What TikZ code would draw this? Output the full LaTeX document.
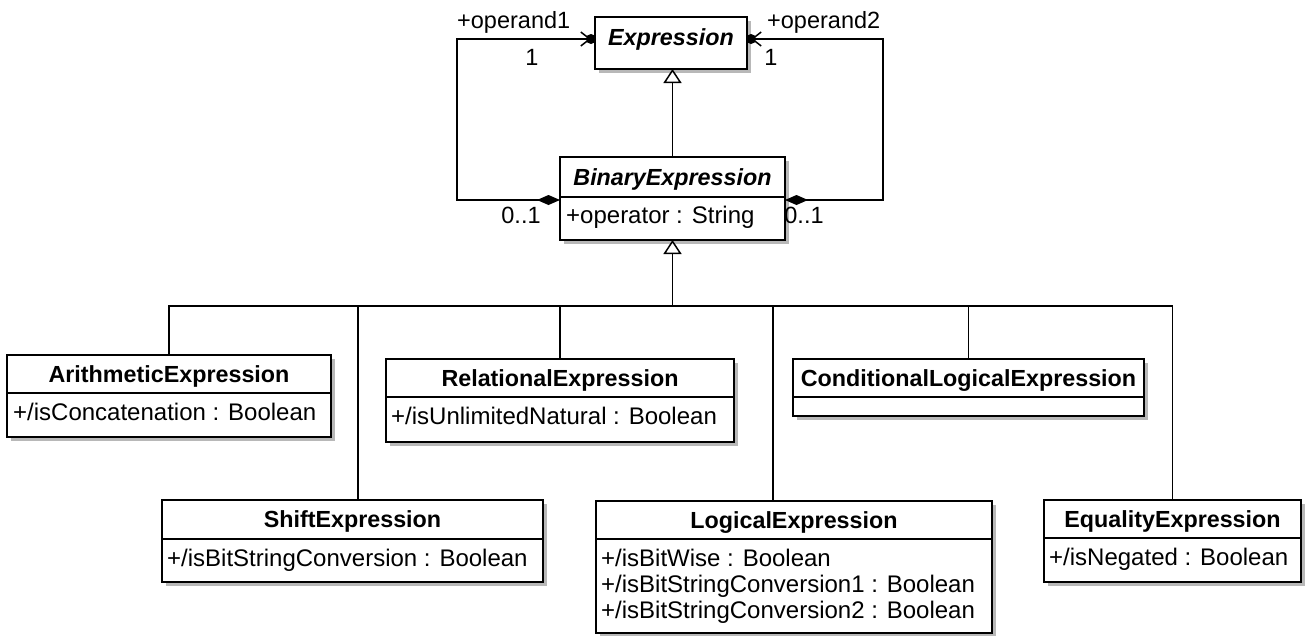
\documentclass[tikz,border=0pt]{standalone}
\usepackage{fontspec}
\setmainfont{Liberation Sans}
\usetikzlibrary{arrows.meta,calc}
\tikzset{
  cls/.style={draw=black, line width=2pt, fill=white, anchor=north west, inner sep=0pt, outer sep=0pt},
  shadowbox/.style={fill=black!28, draw=none},
  ttl/.style={anchor=base, font=\fontsize{23.3}{26}\selectfont\bfseries, inner sep=0pt},
  ittl/.style={ttl, font=\fontsize{23.3}{26}\selectfont\bfseries\itshape},
  attr/.style={anchor=base west, font=\fontsize{24}{26}\selectfont, inner sep=0pt},
  lbl/.style={anchor=base, font=\fontsize{23.5}{26}\selectfont, inner sep=0pt},
  conn/.style={line width=1.6pt, draw=black},
  div/.style={line width=1.7pt},
  gen/.style={conn, -{Triangle[open, length=14pt, width=18pt, fill=white, line width=1.5pt]}},
  assoc/.style={conn, {Diamond[length=23pt, width=10pt]}-{Straight Barb[length=9pt, width=14pt, line width=1.5pt]}, shorten >=4pt},
  owndot/.style={circle, fill=black, inner sep=0pt, minimum size=10pt},
}
% name, x1, y1, x2, y2 (pixels, y downward)
\newcommand{\clsbox}[5]{%
  \fill[shadowbox] (#2+4,#3+4) rectangle (#4+4,#5+4);
  \node[cls, minimum width={#4-#2}, minimum height={#5-#3}] (#1) at (#2,#3) {};
}
\newcommand{\clsdiv}[2]{%
  \draw[div] ($(#1.north west)+(0,#2)$) -- ($(#1.north east)+(0,#2)$);
}
\begin{document}
\begin{tikzpicture}[x=1pt,y=-1pt]
\useasboundingbox (0,0) rectangle (1307,635);

% ---------- classes ----------
\clsbox{expr}{595}{17}{747}{69}
\node[ittl] (exprT) at (671,45) {Expression};

\clsbox{bin}{560}{157}{785}{240}
\clsdiv{bin}{40}
\node[ittl] (binT) at (672.5,185) {BinaryExpression};
\node[attr] (binA) at (566,223) {+operator : String};

\clsbox{arith}{7}{355}{331}{437}
\clsdiv{arith}{38}
\node[ttl] (arithT) at (169,382) {ArithmeticExpression};
\node[attr] (arithA) at (13,420) {+/isConcatenation : Boolean};

\clsbox{rel}{386}{359}{734}{442}
\clsdiv{rel}{38}
\node[ttl] (relT) at (560,386) {RelationalExpression};
\node[attr] (relA) at (391,424) {+/isUnlimitedNatural : Boolean};

\clsbox{cond}{793}{359}{1144}{416}
\clsdiv{cond}{38}
\node[ttl] (condT) at (968.5,386) {ConditionalLogicalExpression};

\clsbox{shift}{162}{500}{543}{582}
\clsdiv{shift}{39}
\node[ttl] (shiftT) at (352.5,527) {ShiftExpression};
\node[attr] (shiftA) at (167,566) {+/isBitStringConversion : Boolean};

\clsbox{logic}{596}{501}{992}{633}
\clsdiv{logic}{38}
\node[ttl] (logicT) at (794,528) {LogicalExpression};
\node[attr] (logicA) at (601,566) {+/isBitWise : Boolean};
\node[attr] (logicB) at (601,592) {+/isBitStringConversion1 : Boolean};
\node[attr] (logicC) at (601,618) {+/isBitStringConversion2 : Boolean};

\clsbox{eq}{1044}{500}{1301}{582}
\clsdiv{eq}{38}
\node[ttl] (eqT) at (1172.5,527) {EqualityExpression};
\node[attr] (eqA) at (1049,565) {+/isNegated : Boolean};

% ---------- generalizations ----------
\draw[gen] (bin.north) -- (bin.north |- expr.south);

\coordinate (bus) at (672.5,306);
\draw[gen] (bus) -- (bin.south);
\coordinate (shTop) at (358,500);
\coordinate (lgTop) at (773,501);
\draw[conn] (arith.north) |- (bus);
\draw[conn] (shTop) |- (bus);
\draw[conn] (rel.north) |- (bus);
\draw[conn] (lgTop) |- (bus);
\draw[conn] (cond.north) |- (bus);
\draw[conn] (eq.north) |- (bus);

% ---------- associations ----------
\coordinate (binL) at ($(bin.north west)+(0,43)$);
\coordinate (binR) at ($(bin.north east)+(0,43)$);
\coordinate (exL) at ($(expr.north west)+(0,22)$);
\coordinate (exR) at ($(expr.north east)+(0,22)$);
\coordinate (cL1) at (457,200);
\coordinate (cL2) at (457,39);
\coordinate (cR1) at (883,200);
\coordinate (cR2) at (883,39);
\draw[assoc] (binL) -- (cL1) -- (cL2) -- (exL);
\draw[assoc] (binR) -- (cR1) -- (cR2) -- (exR);
\node[owndot] (dotL) at ($(exL)+(-4,0)$) {};
\node[owndot] (dotR) at ($(exR)+(4,0)$) {};

% ---------- role labels ----------
\node[lbl, anchor=base west] (op1) at (457,28) {+operand1};
\node[lbl] (m1) at (532,65) {1};
\node[lbl, anchor=base west] (op2) at (767,28) {+operand2};
\node[lbl] (m2) at (771,65) {1};
\node[lbl] (m3) at (521,223) {0..1};
\node[lbl] (m4) at (804,223) {0..1};
\end{tikzpicture}
\end{document}
